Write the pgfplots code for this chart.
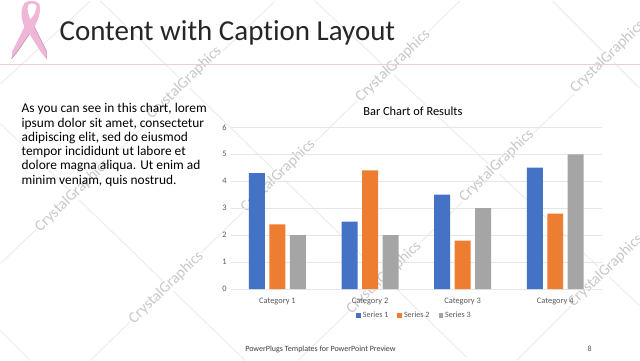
\documentclass[border=0pt]{standalone}
\usepackage{fontspec}
\setmainfont[Ligatures=NoCommon]{Carlito}
\usepackage{pgfplots}
\pgfplotsset{compat=1.18}
\definecolor{wm}{HTML}{C8C8C8}
\definecolor{wl}{HTML}{EDEDED}
\definecolor{bl}{HTML}{4472C4}
\definecolor{or}{HTML}{ED7D31}
\definecolor{gy}{HTML}{A5A5A5}
\definecolor{grd}{HTML}{E6E6E6}
\definecolor{txt}{HTML}{595959}
\definecolor{rbn}{HTML}{F0B6D8}
\definecolor{rbd}{HTML}{B98AA6}
\begin{document}
\begin{tikzpicture}
\begin{scope}[x=1pt,y=-1pt]
\fill[white] (0,0) rectangle (640,360);
\draw[wl,line width=1pt] (0,123)--(245,360) (100,0)--(467,357) (315,0)--(640,305) (553,0)--(640,87) (0,330)--(30,360);
\draw[wl,line width=1pt] (0,83)--(90,0) (0,263)--(275,0) (90,360)--(460,0) (298,360)--(640,30) (517,360)--(640,237);
\begin{scope}
\clip (0,0) rectangle (640,360);
\foreach \p in {(184,82),(393,65),(608,56),(278,175),(72,195),(166,287),(497,165),(384,277),(606,270)}
  \node[text=wm,rotate=44,font=\fontsize{15.5}{15}\selectfont,fill=white,inner sep=1pt] at \p {CrystalGraphics};
\end{scope}
\draw[color=rbd!40!white,line width=1pt] (0,64)--(640,64);
\fill[rbn] (24,2) .. controls (28,-1) and (36,-1) .. (39,3) .. controls (41,10) and (38,18) .. (34,26) -- (46,50) -- (46,58) -- (41,52) -- (29,33) -- (16,52) -- (11,58) -- (12,50) -- (24,26) .. controls (20,16) and (20,8) .. (24,2) -- cycle;
\fill[white] (28,4) .. controls (30,2) and (34,2) .. (36,5) .. controls (36,10) and (33,15) .. (30,18) .. controls (28,14) and (26,8) .. (28,4) -- cycle;
\draw[rbd,line width=.5pt] (29,33) -- (16,52) -- (11,58);
\draw[rbd,line width=.5pt] (34,26) -- (46,50) -- (46,58);
\node[anchor=base west,inner sep=0pt,font=\fontsize{29}{29}\selectfont,text=black!85] at (59,40) {Content with Caption Layout};
\node[anchor=north west,inner sep=0pt,align=left,font=\fontsize{13.4}{14.3}\selectfont,text=black] at (21,102.5) {As you can see in this chart, lorem\\ipsum dolor sit amet, consectetur\\adipiscing elit, sed do eiusmod\\tempor incididunt ut labore et\\dolore magna aliqua. Ut enim ad\\minim veniam, quis nostrud.};
\node[inner sep=0pt,font=\fontsize{12.4}{14}\selectfont,text=black] at (413,110) {Bar Chart of Results};
\node[anchor=base west,inner sep=0pt,font=\fontsize{8}{9}\selectfont,text=txt!70!black] at (245,351) {PowerPlugs Templates for PowerPoint  Preview};
\node[anchor=base,inner sep=0pt,font=\fontsize{8}{9}\selectfont,text=txt] at (590,351) {8};
\end{scope}
\begin{axis}[
  at={(231pt,-288.5pt)},anchor=south west,
  scale only axis,width=371pt,height=162pt,
  xmin=-0.5,xmax=3.5,ymin=0,ymax=6,
  ytick={0,1,2,3,4,5,6},xtick={0,1,2,3},
  xticklabels={Category 1,Category 2,Category 3,Category 4},
  ymajorgrids,grid style={grd,line width=.7pt},
  axis x line*=bottom,axis y line*=left,
  x axis line style={draw=grd,line width=.7pt,-},
  y axis line style={draw=none},
  tick style={draw=none},
  ticklabel style={font=\fontsize{8.4}{9}\selectfont,text=txt},
  /pgf/number format/assume math mode=true,
  yticklabel style={xshift=-1pt},
  xticklabel style={yshift=-1pt},
  ybar,
  bar width=16pt,
  clip=false,
  legend style={at={(0.495,-0.163)},anchor=center,draw=none,fill=none,legend columns=3,
    font=\fontsize{8.1}{9}\selectfont,text=txt,inner sep=0pt,
    /tikz/every even column/.style={column sep=7pt}},
  legend image code/.code={\fill[#1] (0pt,-2.3pt) rectangle (4.6pt,2.3pt);},
]
\addplot[fill=bl,draw=none,bar shift=-20.5pt] coordinates {(0,4.3) (1,2.5) (2,3.5) (3,4.5)};
\addplot[fill=or,draw=none,bar shift=0pt] coordinates {(0,2.4) (1,4.4) (2,1.8) (3,2.8)};
\addplot[fill=gy,draw=none,bar shift=20.5pt] coordinates {(0,2) (1,2) (2,3) (3,5)};
\legend{Series 1,Series 2,Series 3}
\end{axis}
\end{tikzpicture}
\end{document}
